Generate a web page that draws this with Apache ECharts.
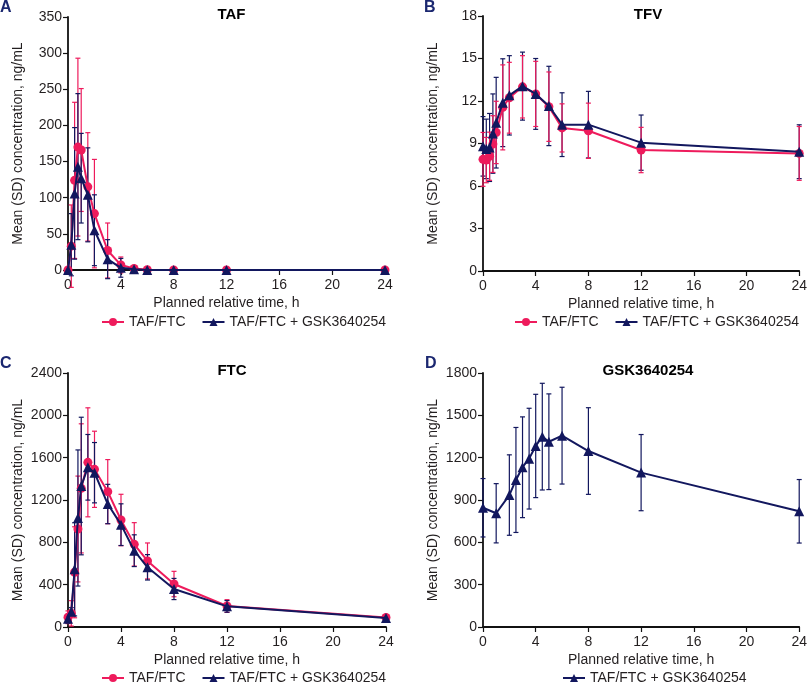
<!DOCTYPE html>
<html>
<head>
<meta charset="utf-8">
<script src="https://cdn.jsdelivr.net/npm/echarts@6/dist/echarts.min.js"></script>
<style>
html,body{margin:0;padding:0;background:#fff;}
#chart{width:810px;height:687px;}
</style>
</head>
<body>
<div id="chart"></div>
<script>
// ---- Data ----
const times = [0, 0.25, 0.5, 0.75, 1, 1.5, 2, 3, 4, 5, 6, 8, 12, 24];
const timesD = [0, 1, 2, 2.5, 3, 3.5, 4, 4.5, 5, 6, 8, 12, 24];

const tafMeanRef   = [0, 33, 124, 170, 166, 115, 78, 27, 7, 2, 0.5, 0, 0, 0];
const tafSdRef     = [0, 57, 108, 123, 85, 75, 75, 38, 11, 2, 1, 0, 0, 0];
const tafMeanCombo = [0, 35, 106, 143, 127, 104, 55, 15, 3, 1, 0, 0, 0, 0];
const tafSdCombo   = [0, 43, 91, 101, 62, 65, 49, 27, 13, 1, 0, 0, 0, 0];

const tfvMeanRef   = [7.88, 7.83, 8.1, 8.96, 9.78, 11.55, 12.23, 13.0, 12.5, 11.6, 10.1, 9.9, 8.54, 8.3];
const tfvSdRef     = [1.9, 1.6, 1.7, 2.0, 2.2, 3.0, 2.5, 2.2, 2.3, 2.45, 1.7, 1.95, 1.6, 1.9];
const tfvMeanCombo = [8.8, 8.62, 8.72, 9.7, 10.47, 11.88, 12.4, 13.05, 12.5, 11.65, 10.33, 10.33, 9.06, 8.42];
const tfvSdCombo   = [2.1, 2.1, 2.4, 2.8, 3.2, 3.1, 2.8, 2.4, 2.5, 2.8, 2.25, 2.35, 1.95, 1.9];

const ftcMeanRef   = [92, 129, 517, 926, 1310, 1556, 1490, 1279, 1011, 781, 624, 406, 198, 90];
const ftcSdRef     = [60, 120, 430, 500, 610, 515, 360, 303, 243, 205, 170, 120, 60, 20];
const ftcMeanCombo = [78, 145, 545, 1030, 1332, 1509, 1458, 1162, 967, 721, 564, 359, 195, 85];
const ftcSdCombo   = [40, 38, 440, 643, 650, 310, 285, 186, 197, 150, 120, 100, 55, 20];

const gskMean = [845, 806, 935, 1042, 1132, 1193, 1283, 1349, 1313, 1356, 1247, 1094, 820];
const gskSd   = [207, 210, 285, 372, 357, 357, 366, 378, 339, 343, 307, 270, 225];

const panelTitles = ['TAF', 'TFV', 'FTC', 'GSK3640254'];
const panelLetters = ['A', 'B', 'C', 'D'];
const yMax = [350, 18, 2400, 1800];
const yInterval = [50, 3, 400, 300];
const nameRef = 'TAF/FTC';
const nameCombo = 'TAF/FTC + GSK3640254';
const yName = 'Mean (SD) concentration, ng/mL';
const xName = 'Planned relative time, h';

// ---- Styling ----
const PINK = '#EE1B5C';
const NAVY = '#12175E';
const TXT = '#231F20';
const FONT = '"Liberation Sans", Arial, sans-serif';

const grids = [
  {left: 68, top: 17, width: 317, height: 253},
  {left: 483, top: 16, width: 320, height: 255},
  {left: 68, top: 373, width: 318, height: 254},
  {left: 483, top: 373, width: 320, height: 254}
];

function lineSeries(name, idx, xs, ys, color, symbol, size, z) {
  return {
    type: 'line', name: name, xAxisIndex: idx, yAxisIndex: idx,
    data: xs.map((t, i) => [t, ys[i]]),
    symbol: symbol, symbolSize: size, showSymbol: true,
    lineStyle: {color: color, width: 2},
    itemStyle: {color: color},
    z: z, animation: false
  };
}
function errSeries(idx, xs, ys, sds, color, w, z) {
  return {
    type: 'custom', name: 'err' + idx + color, xAxisIndex: idx, yAxisIndex: idx,
    data: xs.map((t, i) => [t, ys[i], sds[i]]),
    encode: {x: 0, y: 1},
    silent: true, z: z, animation: false,
    renderItem: function (params, api) {
      const t = api.value(0), m = api.value(1), s = api.value(2);
      if (!s) return null;
      const top = api.coord([t, m + s]);
      const bot = api.coord([t, m - s]);
      const cw = 2.5;
      const st = {stroke: color, lineWidth: w};
      return {type: 'group', children: [
        {type: 'line', shape: {x1: top[0], y1: top[1], x2: bot[0], y2: bot[1]}, style: st},
        {type: 'line', shape: {x1: top[0] - cw, y1: top[1], x2: top[0] + cw, y2: top[1]}, style: st},
        {type: 'line', shape: {x1: bot[0] - cw, y1: bot[1], x2: bot[0] + cw, y2: bot[1]}, style: st}
      ]};
    }
  };
}

const axisCommon = {
  axisLine: {show: true, onZero: false, lineStyle: {color: '#111', width: 1.8}},
  axisTick: {show: true, inside: false, length: 5, lineStyle: {color: '#111', width: 1.2}},
  splitLine: {show: false}
};
const labelStyle = {color: TXT, fontSize: 14, fontFamily: FONT, formatter: v => String(v)};

const xAxes = grids.map((g, i) => Object.assign({}, axisCommon, {
  type: 'value', gridIndex: i, min: 0, max: 24, interval: 4,
  axisLabel: Object.assign({}, labelStyle, {margin: 8}),
  name: xName, nameLocation: 'middle', nameGap: 26,
  nameTextStyle: {color: TXT, fontSize: 14, fontFamily: FONT}
}));
const yAxes = grids.map((g, i) => Object.assign({}, axisCommon, {
  type: 'value', gridIndex: i, min: 0, max: yMax[i], interval: yInterval[i],
  axisLabel: Object.assign({}, labelStyle, {margin: 6}),
  name: yName, nameLocation: 'middle', nameGap: 43,
  nameTextStyle: {color: TXT, fontSize: 14, fontFamily: FONT}
}));

const series = [
  errSeries(0, times, tafMeanRef, tafSdRef, PINK, 1.2, 2),
  errSeries(0, times, tafMeanCombo, tafSdCombo, NAVY, 1.2, 3),
  lineSeries(nameRef, 0, times, tafMeanRef, PINK, 'circle', 9, 4),
  lineSeries(nameCombo, 0, times, tafMeanCombo, NAVY, 'triangle', 10, 5),

  errSeries(1, times, tfvMeanRef, tfvSdRef, PINK, 1.2, 3),
  errSeries(1, times, tfvMeanCombo, tfvSdCombo, NAVY, 1.2, 2),
  lineSeries(nameRef, 1, times, tfvMeanRef, PINK, 'circle', 9, 4),
  lineSeries(nameCombo, 1, times, tfvMeanCombo, NAVY, 'triangle', 10, 5),

  errSeries(2, times, ftcMeanRef, ftcSdRef, PINK, 1.2, 2),
  errSeries(2, times, ftcMeanCombo, ftcSdCombo, NAVY, 1.2, 3),
  lineSeries(nameRef, 2, times, ftcMeanRef, PINK, 'circle', 9, 4),
  lineSeries(nameCombo, 2, times, ftcMeanCombo, NAVY, 'triangle', 10, 5),

  errSeries(3, timesD, gskMean, gskSd, NAVY, 1.2, 3),
  lineSeries(nameCombo, 3, timesD, gskMean, NAVY, 'triangle', 10, 5)
];

const legendCommon = {
  itemWidth: 22, itemHeight: 10, itemGap: 16, padding: 0,
  textStyle: {color: TXT, fontSize: 14, fontFamily: FONT},
  selectedMode: false
};
const legends = [
  Object.assign({}, legendCommon, {left: 101, top: 315, data: [nameRef, nameCombo]}),
  Object.assign({}, legendCommon, {left: 514, top: 315, data: [nameRef, nameCombo]}),
  Object.assign({}, legendCommon, {left: 101, top: 671, data: [nameRef, nameCombo]}),
  Object.assign({}, legendCommon, {left: 562, top: 671, data: [nameCombo]})
];

const titles = grids.map((g, i) => ({
  text: panelTitles[i], left: g.left + g.width / 2, top: i < 2 ? 2 : 358, textAlign: 'center',
  textStyle: {color: '#000', fontSize: 15, fontWeight: 'bold', fontFamily: FONT}
}));
const letterPos = [[0, 0], [424, 0], [0, 356], [425, 356]];
const graphics = panelLetters.map((l, i) => ({
  type: 'text', left: letterPos[i][0], top: letterPos[i][1],
  style: {text: l, fill: '#1B2770', font: 'bold 16px ' + FONT}
}));

const chart = echarts.init(document.getElementById('chart'), null, {renderer: 'canvas'});
chart.setOption({
  backgroundColor: '#fff',
  animation: false,
  title: titles,
  grid: grids,
  xAxis: xAxes,
  yAxis: yAxes,
  legend: legends,
  graphic: graphics,
  series: series
});
</script>
</body>
</html>
